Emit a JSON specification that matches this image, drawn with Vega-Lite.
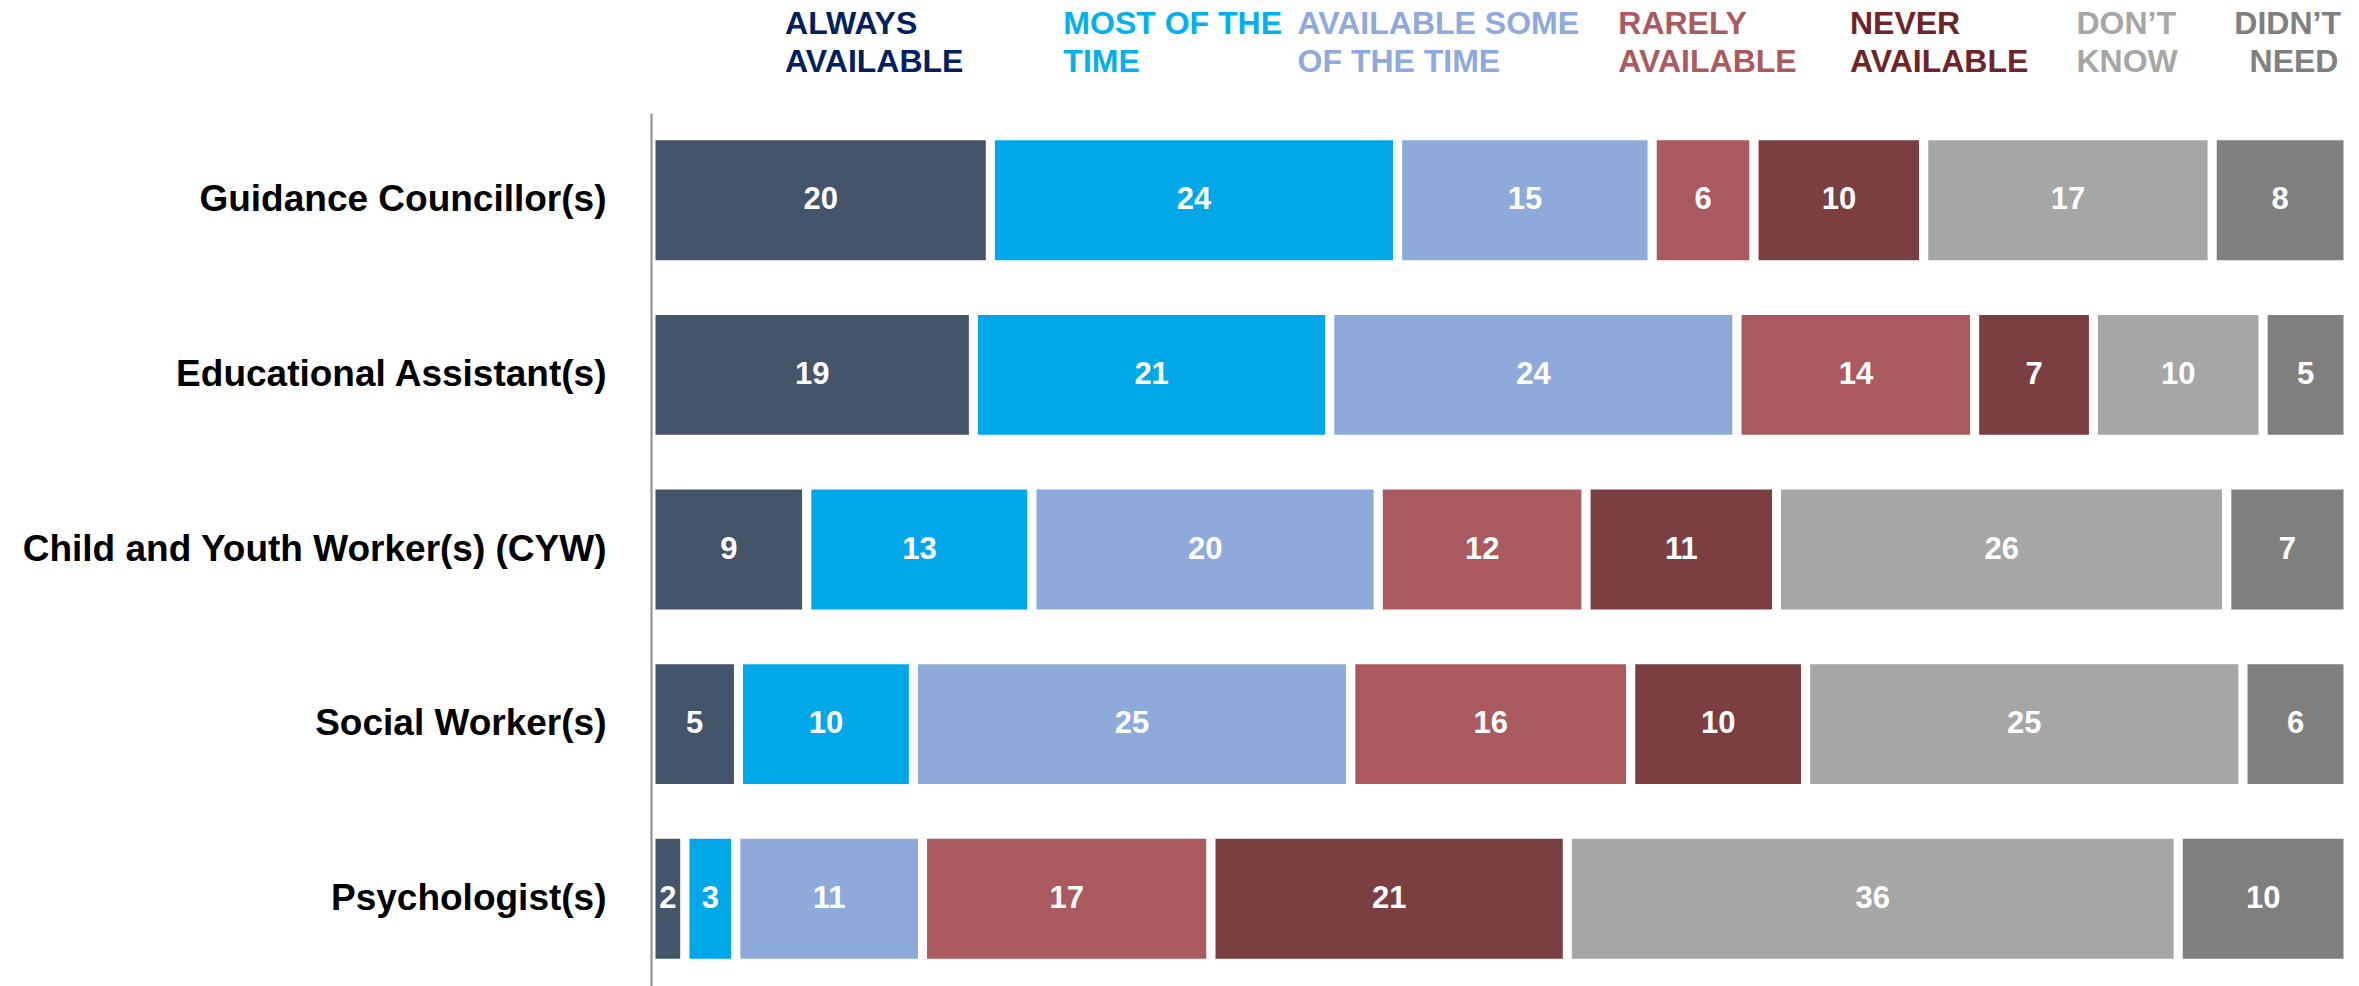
{
  "$schema": "https://vega.github.io/schema/vega-lite/v6.json",
  "background": "white",
  "padding": {"left": 21, "top": 0, "right": 0, "bottom": 0},
  "config": {"view": {"stroke": null}, "font": "Liberation Sans"},
  "spacing": 27,
  "datasets": {
    "bars": [
      {"row": "Guidance Councillor(s)", "cat": "Always available", "value": 20},
      {"row": "Guidance Councillor(s)", "cat": "Most of the time", "value": 24},
      {"row": "Guidance Councillor(s)", "cat": "Available some of the time", "value": 15},
      {"row": "Guidance Councillor(s)", "cat": "Rarely available", "value": 6},
      {"row": "Guidance Councillor(s)", "cat": "Never available", "value": 10},
      {"row": "Guidance Councillor(s)", "cat": "Don't know", "value": 17},
      {"row": "Guidance Councillor(s)", "cat": "Didn't need", "value": 8},
      {"row": "Educational Assistant(s)", "cat": "Always available", "value": 19},
      {"row": "Educational Assistant(s)", "cat": "Most of the time", "value": 21},
      {"row": "Educational Assistant(s)", "cat": "Available some of the time", "value": 24},
      {"row": "Educational Assistant(s)", "cat": "Rarely available", "value": 14},
      {"row": "Educational Assistant(s)", "cat": "Never available", "value": 7},
      {"row": "Educational Assistant(s)", "cat": "Don't know", "value": 10},
      {"row": "Educational Assistant(s)", "cat": "Didn't need", "value": 5},
      {"row": "Child and Youth Worker(s) (CYW)", "cat": "Always available", "value": 9},
      {"row": "Child and Youth Worker(s) (CYW)", "cat": "Most of the time", "value": 13},
      {"row": "Child and Youth Worker(s) (CYW)", "cat": "Available some of the time", "value": 20},
      {"row": "Child and Youth Worker(s) (CYW)", "cat": "Rarely available", "value": 12},
      {"row": "Child and Youth Worker(s) (CYW)", "cat": "Never available", "value": 11},
      {"row": "Child and Youth Worker(s) (CYW)", "cat": "Don't know", "value": 26},
      {"row": "Child and Youth Worker(s) (CYW)", "cat": "Didn't need", "value": 7},
      {"row": "Social Worker(s)", "cat": "Always available", "value": 5},
      {"row": "Social Worker(s)", "cat": "Most of the time", "value": 10},
      {"row": "Social Worker(s)", "cat": "Available some of the time", "value": 25},
      {"row": "Social Worker(s)", "cat": "Rarely available", "value": 16},
      {"row": "Social Worker(s)", "cat": "Never available", "value": 10},
      {"row": "Social Worker(s)", "cat": "Don't know", "value": 25},
      {"row": "Social Worker(s)", "cat": "Didn't need", "value": 6},
      {"row": "Psychologist(s)", "cat": "Always available", "value": 2},
      {"row": "Psychologist(s)", "cat": "Most of the time", "value": 3},
      {"row": "Psychologist(s)", "cat": "Available some of the time", "value": 11},
      {"row": "Psychologist(s)", "cat": "Rarely available", "value": 17},
      {"row": "Psychologist(s)", "cat": "Never available", "value": 21},
      {"row": "Psychologist(s)", "cat": "Don't know", "value": 36},
      {"row": "Psychologist(s)", "cat": "Didn't need", "value": 10}
    ],
    "heads": [
      {"cat": "Always available", "line": 1, "text": "ALWAYS", "hx": 0.079},
      {"cat": "Always available", "line": 2, "text": "AVAILABLE", "hx": 0.079},
      {"cat": "Most of the time", "line": 1, "text": "MOST OF THE", "hx": 0.243},
      {"cat": "Most of the time", "line": 2, "text": "TIME", "hx": 0.243},
      {"cat": "Available some of the time", "line": 1, "text": "AVAILABLE SOME", "hx": 0.381},
      {"cat": "Available some of the time", "line": 2, "text": "OF THE TIME", "hx": 0.381},
      {"cat": "Rarely available", "line": 1, "text": "RARELY", "hx": 0.570},
      {"cat": "Rarely available", "line": 2, "text": "AVAILABLE", "hx": 0.570},
      {"cat": "Never available", "line": 1, "text": "NEVER", "hx": 0.7065},
      {"cat": "Never available", "line": 2, "text": "AVAILABLE", "hx": 0.7065},
      {"cat": "Don't know", "line": 1, "text": "DON’T", "hx": 0.840},
      {"cat": "Don't know", "line": 2, "text": "KNOW", "hx": 0.840},
      {"cat": "Didn't need", "line": 1, "text": "DIDN’T", "hx": 0.933},
      {"cat": "Didn't need", "line": 2, "text": "NEED", "hx": 0.942}
    ]
  },
  "resolve": {"scale": {"color": "independent", "x": "independent", "y": "independent"}},
  "vconcat": [
    {
      "width": 1697,
      "height": 86,
      "data": {"name": "heads"},
      "mark": {"type": "text", "align": "left", "baseline": "middle", "fontSize": 32, "fontWeight": "bold", "font": "Liberation Sans"},
      "encoding": {
        "x": {"field": "hx", "type": "quantitative", "scale": {"domain": [0, 1]}, "axis": null},
        "y": {"field": "line", "type": "ordinal", "scale": {"type": "point", "padding": 0.63}, "axis": null},
        "text": {"field": "text"},
        "color": {
          "field": "cat", "type": "nominal", "legend": null,
          "scale": {
            "domain": ["Always available", "Most of the time", "Available some of the time", "Rarely available", "Never available", "Don't know", "Didn't need"],
            "range": ["#002060", "#00B0F0", "#8EA9DB", "#AB5B60", "#6E2529", "#A6A6A6", "#808080"]
          }
        }
      }
    },
    {
      "width": 1697,
      "height": 873,
      "data": {"name": "bars"},
      "transform": [
        {"calculate": "indexof(['Always available','Most of the time','Available some of the time','Rarely available','Never available',\"Don't know\",\"Didn't need\"], datum.cat)", "as": "k"},
        {"stack": "value", "groupby": ["row"], "sort": [{"field": "k", "order": "ascending"}], "offset": "normalize", "as": ["x0", "x1"]},
        {"calculate": "(datum.x0 + datum.x1) / 2", "as": "xm"}
      ],
      "encoding": {
        "y": {
          "field": "row", "type": "nominal",
          "sort": ["Guidance Councillor(s)", "Educational Assistant(s)", "Child and Youth Worker(s) (CYW)", "Social Worker(s)", "Psychologist(s)"],
          "scale": {"paddingInner": 0.262, "paddingOuter": 0.131},
          "axis": {"title": null, "ticks": false, "zindex": 1, "labelPadding": 45, "labelFontSize": 37, "labelFontWeight": "bold", "labelColor": "#000000", "labelFont": "Liberation Sans", "labelLimit": 800, "domainColor": "#8C8C8C", "domainWidth": 2}
        }
      },
      "layer": [
        {
          "mark": {"type": "bar", "stroke": "white", "strokeWidth": 9},
          "encoding": {
            "x": {"field": "x0", "type": "quantitative", "scale": {"domain": [0, 1]}, "axis": null},
            "x2": {"field": "x1"},
            "color": {
              "field": "cat", "type": "nominal", "legend": null,
              "scale": {
                "domain": ["Always available", "Most of the time", "Available some of the time", "Rarely available", "Never available", "Don't know", "Didn't need"],
                "range": ["#44546A", "#00A8EA", "#8EAADB", "#AA5A5E", "#7B3F42", "#A6A6A6", "#7F7F7F"]
              }
            }
          }
        },
        {
          "mark": {"type": "text", "color": "white", "fontSize": 31, "fontWeight": "bold", "font": "Liberation Sans", "baseline": "middle", "align": "center"},
          "encoding": {
            "x": {"field": "xm", "type": "quantitative", "scale": {"domain": [0, 1]}, "axis": null},
            "text": {"field": "value", "type": "quantitative"}
          }
        }
      ]
    }
  ]
}
